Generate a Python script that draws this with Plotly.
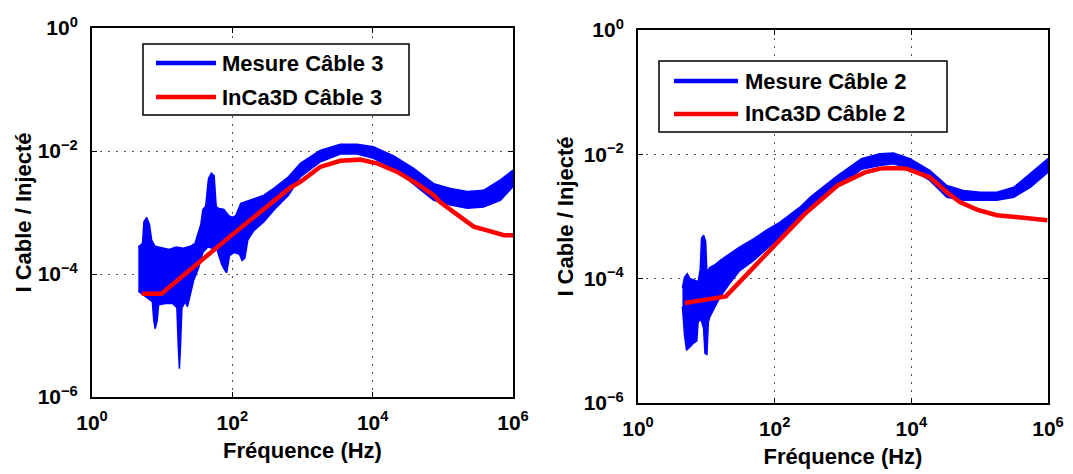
import plotly.graph_objects as go

# ---------------- Left panel : Câble 3 ----------------
c3_meas_f_up = [4.57, 5.25, 5.5, 6.03, 6.61, 7.08, 7.94, 10, 12.6, 15.8, 20, 25.1, 29.5, 31.6, 35.5, 38,
                41.7, 45.7, 50.1, 55, 58.9, 63.1, 75.9, 89.1, 100, 112, 132, 158, 200, 282, 398, 631,
                933, 1778, 3467, 6026, 10230, 19950, 38020, 74130, 128800, 223900, 380200, 660700, 1e6]
c3_meas_v_up = [2.75e-4, 3.16e-4, 7.08e-4, 8.3e-4, 6.3e-4, 3.55e-4, 2.82e-4, 2.63e-4, 2.51e-4, 2.75e-4,
                2.63e-4, 2.82e-4, 3.16e-4, 4.17e-4, 6.3e-4, 1.12e-3, 1.26e-3, 3.55e-3, 4.37e-3, 3.98e-3,
                1.26e-3, 1.17e-3, 1.12e-3, 8.9e-4, 8.3e-4, 8.9e-4, 1.41e-3, 1.51e-3, 1.66e-3, 1.91e-3,
                2.51e-3, 3.8e-3, 6.3e-3, 1.02e-2, 1.29e-2, 1.29e-2, 1.17e-2, 8.3e-3, 5.25e-3, 2.95e-3,
                2.45e-3, 2.19e-3, 2.29e-3, 3.39e-3, 4.9e-3]
c3_meas_f_lo = [4.57, 5.62, 7.24, 7.59, 7.94, 8.51, 8.91, 11.2, 14.1, 16.2, 17.0, 17.6, 18.2, 19.1, 21.4,
                22.9, 24.5, 28.2, 33.1, 38, 44.7, 60.3, 70.8, 79.4, 83.2, 91.2, 107, 126, 138, 151, 166,
                200, 282, 398, 631, 933, 1778, 3467, 6026, 10230, 19950, 38020, 74130, 128800, 223900,
                380200, 660700, 1e6]
c3_meas_v_lo = [5.25e-5, 4.47e-5, 3.55e-5, 1.78e-5, 1.29e-5, 1.78e-5, 3.16e-5, 3.31e-5, 3.31e-5, 2.82e-5,
                6.3e-6, 2.88e-6, 6.3e-6, 2.82e-5, 3.55e-5, 2.95e-5, 3.98e-5, 7.94e-5, 1.26e-4, 2.24e-4,
                2.75e-4, 2.51e-4, 1.41e-4, 1.12e-4, 1.05e-4, 2.0e-4, 2.24e-4, 2.09e-4, 1.66e-4, 1.82e-4,
                3.55e-4, 5.0e-4, 7.08e-4, 1.12e-3, 1.91e-3, 3.8e-3, 6.6e-3, 8.9e-3, 8.9e-3, 7.6e-3,
                5.25e-3, 2.95e-3, 1.58e-3, 1.32e-3, 1.17e-3, 1.23e-3, 1.58e-3, 2.63e-3]
# Simulated curve
c3_sim_f = [5.13, 9.77, 100, 661, 933, 1778, 3467, 6607, 11480, 22390, 42660, 74130, 91200, 158500,
            275400, 426600, 741300, 1e6]
c3_sim_v = [4.79e-5, 4.79e-5, 4.37e-4, 2.51e-3, 3.16e-3, 5.5e-3, 6.92e-3, 7.24e-3, 6.31e-3, 4.57e-3,
            2.95e-3, 1.91e-3, 1.48e-3, 9.55e-4, 5.89e-4, 5.13e-4, 4.27e-4, 4.27e-4]

# ---------------- Right panel : Câble 2 ----------------
c2_meas_f_up = [4.47, 4.79, 5.25, 5.75, 6.61, 7.59, 8.13, 8.51, 9.12, 9.77, 10.2, 11.2, 13.2, 15.8, 21.9,
                30.9, 49, 75.9, 120, 186, 234, 339, 832, 1862, 3467, 5495, 9550, 18620, 33110, 57540,
                102300, 177800, 316200, 549500, 1e6]
c2_meas_v_up = [7.08e-5, 1.05e-4, 1.2e-4, 1.0e-4, 9.55e-5, 8.91e-5, 1.41e-4, 4.47e-4, 5.01e-4, 3.98e-4,
                1.26e-4, 1.51e-4, 1.66e-4, 1.95e-4, 2.51e-4, 3.24e-4, 4.37e-4, 6.03e-4, 8.13e-4, 1.17e-3,
                1.41e-3, 2.09e-3, 4.57e-3, 8.51e-3, 1.02e-2, 1.05e-2, 8.51e-3, 5.5e-3, 3.16e-3, 2.63e-3,
                2.45e-3, 2.45e-3, 2.95e-3, 4.9e-3, 8.51e-3]
c2_meas_f_lo = [4.47, 4.79, 5.13, 5.75, 6.31, 7.24, 7.59, 8.32, 9.12, 9.55, 10.2, 10.7, 11.2, 13.2, 15.8,
                21.9, 30.9, 49, 75.9, 120, 186, 234, 339, 832, 1862, 3467, 5495, 9550, 18620, 33110,
                57540, 102300, 177800, 316200, 549500, 1e6]
c2_meas_v_lo = [3.55e-5, 1.26e-5, 7.08e-6, 7.94e-6, 8.91e-6, 1.0e-5, 2.0e-5, 2.24e-5, 1.58e-5, 6.31e-6,
                6.03e-6, 2.0e-5, 2.4e-5, 3.47e-5, 5.01e-5, 8.32e-5, 1.35e-4, 1.95e-4, 3.02e-4, 4.68e-4,
                7.24e-4, 8.71e-4, 1.32e-3, 3.02e-3, 5.75e-3, 6.61e-3, 7.08e-3, 5.89e-3, 3.8e-3, 2.04e-3,
                1.82e-3, 1.82e-3, 1.82e-3, 2.04e-3, 2.95e-3, 5.13e-3]
c2_sim_f = [4.83, 19.3, 269, 832, 2089, 3467, 5248, 8511, 18620, 33110, 51290, 91200, 177800, 398100,
            691800, 977200]
c2_sim_v = [4.07e-5, 5.19e-5, 1.07e-3, 3.16e-3, 5.13e-3, 5.89e-3, 6.03e-3, 5.89e-3, 4.27e-3, 2.45e-3,
            1.7e-3, 1.29e-3, 1.05e-3, 9.55e-4, 9.12e-4, 8.71e-4]

x_tickvals = [1, 1e2, 1e4, 1e6]
x_ticktext = ["10<sup>0</sup>", "10<sup>2</sup>", "10<sup>4</sup>", "10<sup>6</sup>"]
y_tickvals = [1e-6, 1e-4, 1e-2, 1]
y_ticktext = ["10<sup>−6</sup>", "10<sup>−4</sup>", "10<sup>−2</sup>", "10<sup>0</sup>"]
x_title = "Fréquence (Hz)"
y_title = "I Cable / Injecté"
legend_left = ["Mesure Câble 3", "InCa3D Câble 3"]
legend_right = ["Mesure Câble 2", "InCa3D Câble 2"]

BLUE = "#0000FF"
RED = "#FF0000"
W, H = 1073, 474
FONT = "Liberation Sans, Arial, sans-serif"


def px(x):
    return x / W


def py(y):
    return 1 - y / H


fig = go.Figure()


def band(f_up, v_up, f_lo, v_lo, name, xa, ya):
    return go.Scatter(x=list(f_up) + list(f_lo)[::-1], y=list(v_up) + list(v_lo)[::-1],
                      mode="lines", fill="toself", fillcolor=BLUE,
                      line=dict(color=BLUE, width=1.5), name=name, showlegend=False,
                      xaxis=xa, yaxis=ya, hoverinfo="skip")


fig.add_trace(band(c3_meas_f_up, c3_meas_v_up, c3_meas_f_lo, c3_meas_v_lo, legend_left[0], "x", "y"))
fig.add_trace(go.Scatter(x=c3_sim_f, y=c3_sim_v, mode="lines", line=dict(color=RED, width=4.5),
                         name=legend_left[1], showlegend=False, xaxis="x", yaxis="y"))
fig.add_trace(band(c2_meas_f_up, c2_meas_v_up, c2_meas_f_lo, c2_meas_v_lo, legend_right[0], "x2", "y2"))
fig.add_trace(go.Scatter(x=c2_sim_f, y=c2_sim_v, mode="lines", line=dict(color=RED, width=4.5),
                         name=legend_right[1], showlegend=False, xaxis="x2", yaxis="y2"))

tickfont = dict(family=FONT, size=21, color="black", weight="bold")
titlefont = dict(family=FONT, size=22, color="black", weight="bold")
GRID = dict(showgrid=True, griddash="2px,6px", gridcolor="#555555", gridwidth=1)


def xaxis(domain, anchor):
    return dict(type="log", range=[0, 6], domain=domain, anchor=anchor, automargin=False,
                tickmode="array", tickvals=x_tickvals, ticktext=x_ticktext,
                showline=True, mirror="ticks", linecolor="black", linewidth=2,
                ticks="inside", ticklen=5, tickcolor="black", tickwidth=1,
                zeroline=False, tickfont=tickfont, ticklabelstandoff=6,
                title=dict(text=x_title, font=titlefont, standoff=9), **GRID)


def yaxis(domain, anchor, standoff):
    return dict(type="log", range=[-6, 0], domain=domain, anchor=anchor, automargin=False,
                tickmode="array", tickvals=y_tickvals, ticktext=y_ticktext,
                showline=True, mirror="ticks", linecolor="black", linewidth=2,
                ticks="inside", ticklen=5, tickcolor="black", tickwidth=1,
                zeroline=False, tickfont=tickfont, ticklabelstandoff=8,
                title=dict(text=y_title, font=titlefont, standoff=standoff), **GRID)


fig.update_layout(
    width=W, height=H,
    margin=dict(l=0, r=0, t=0, b=0, autoexpand=False),
    paper_bgcolor="white", plot_bgcolor="white",
    showlegend=False,
    xaxis=xaxis([px(92), px(513)], "y"),
    yaxis=yaxis([py(397), py(28)], "x", 0),
    xaxis2=xaxis([px(638), px(1048)], "y2"),
    yaxis2=yaxis([py(403), py(30)], "x2", 4),
)

# Legend boxes (drawn as in the reference)
shapes = []
annotations = []


def legend(box, line_x, text_x, rows, labels):
    x0, y0, x1, y1 = box
    shapes.append(dict(type="rect", xref="paper", yref="paper", x0=px(x0), x1=px(x1), y0=py(y1), y1=py(y0),
                       line=dict(color="black", width=1.5), fillcolor="white", layer="above"))
    for (yy, lab, col) in zip(rows, labels, [BLUE, RED]):
        shapes.append(dict(type="line", xref="paper", yref="paper", x0=px(line_x[0]), x1=px(line_x[1]),
                           y0=py(yy), y1=py(yy), line=dict(color=col, width=4.5), layer="above"))
        annotations.append(dict(text=lab, xref="paper", yref="paper", x=px(text_x), y=py(yy),
                                xanchor="left", yanchor="middle", showarrow=False,
                                font=dict(family=FONT, size=22, color="black", weight="bold")))


legend((143, 44, 409, 115), (156, 216), 220, (63, 97), legend_left)
legend((659, 61, 947, 132), (674, 738), 743, (81, 114), legend_right)

fig.update_layout(shapes=shapes, annotations=annotations)

fig.write_html("out.html", config={"displayModeBar": False},
               post_script="document.body.style.margin='0';document.body.style.overflow='hidden';")
